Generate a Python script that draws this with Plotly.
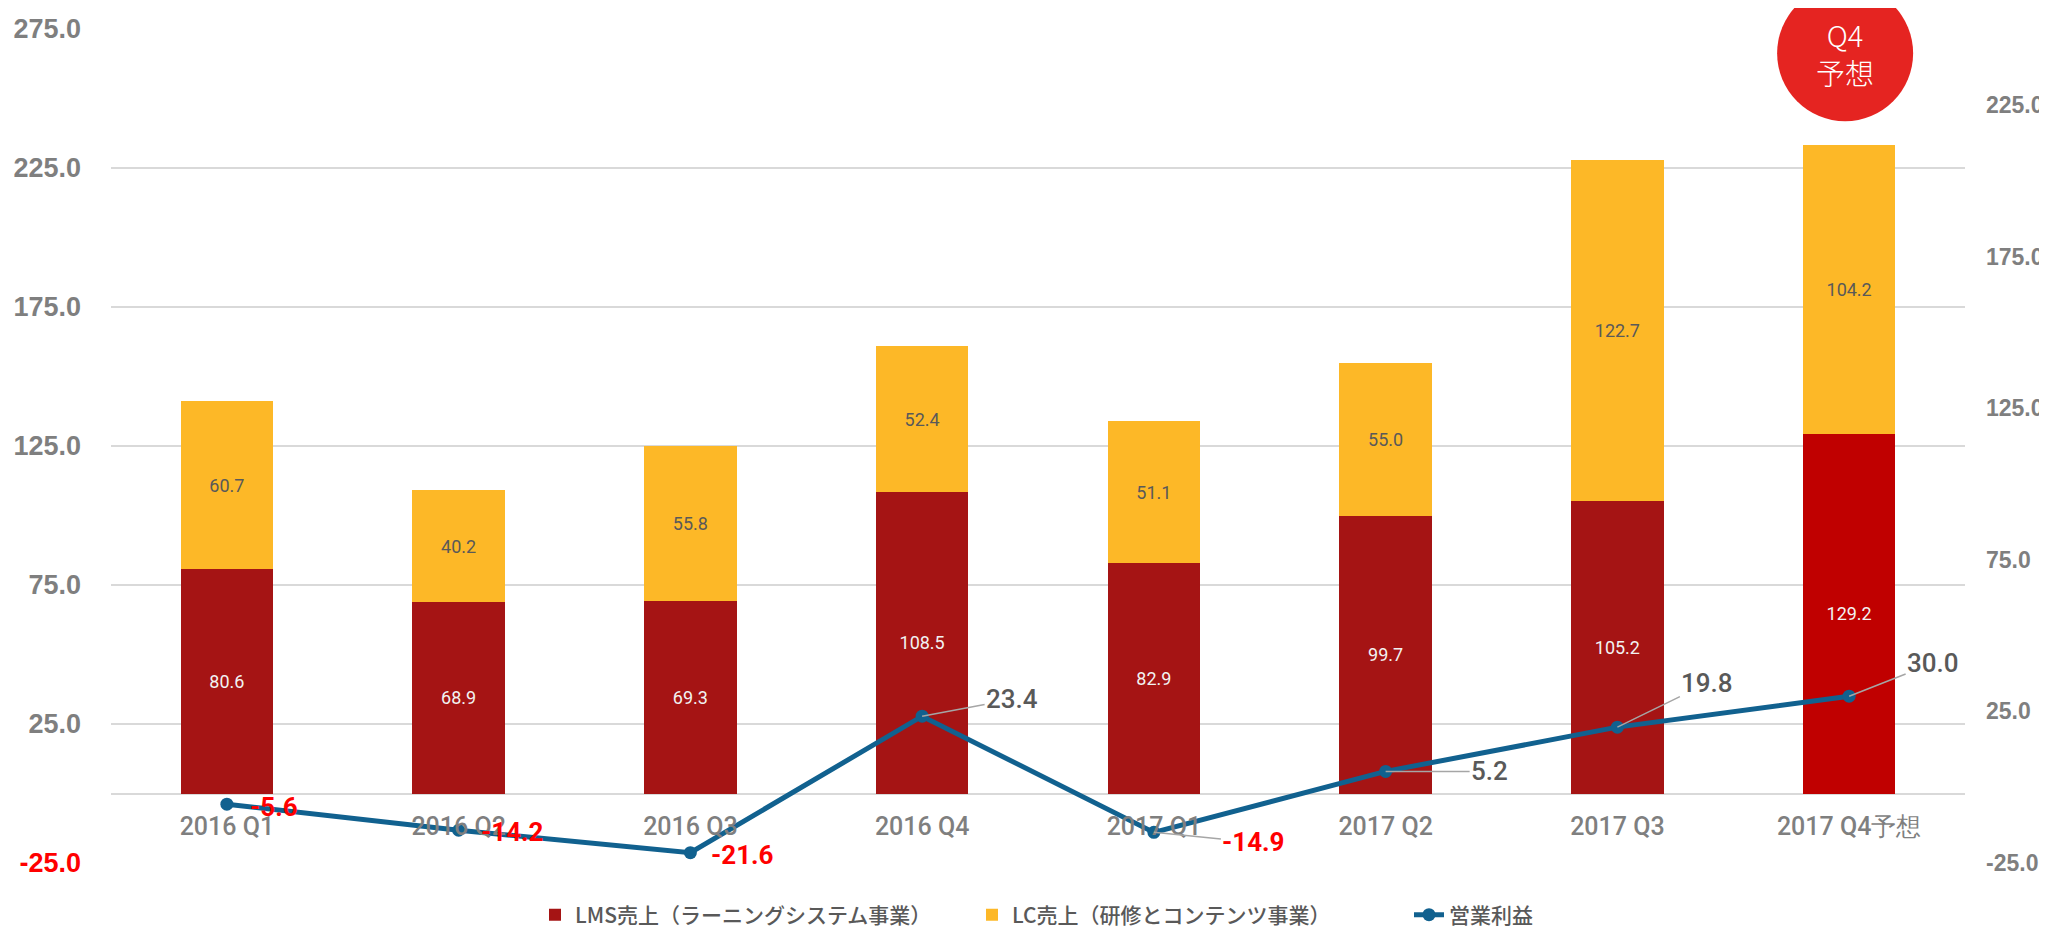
import plotly.graph_objects as go

# ---- data ----
categories = ["2016 Q1", "2016 Q2", "2016 Q3", "2016 Q4",
              "2017 Q1", "2017 Q2", "2017 Q3", "2017 Q4予想"]
lms_sales = [80.6, 68.9, 69.3, 108.5, 82.9, 99.7, 105.2, 129.2]
lc_sales = [60.7, 40.2, 55.8, 52.4, 51.1, 55.0, 122.7, 104.2]
op_profit = [-5.6, -14.2, -21.6, 23.4, -14.9, 5.2, 19.8, 30.0]

left_ticks = [-25, 25, 75, 125, 175, 225, 275]
right_ticks = [-25, 25, 75, 125, 175, 225]

series_names = ["LMS売上（ラーニングシステム事業）", "LC売上（研修とコンテンツ事業）", "営業利益"]

# ---- styles ----
# page body has an 8px default margin, so the figure is sized to fill the rest
OFF = 8
W, H = 2047 - OFF, 928 - OFF
ML, MR, MT, MB = 111 - OFF, 82, 29 - OFF, 65
LMS_COLOR = "#A51414"
LMS_FORECAST = "#C00000"
LC_COLOR = "#FDB827"
LINE_COLOR = "#11618F"
GRID = "#D9D9D9"
AX_GRAY = "#7F7F7F"
LBL_GRAY = "#595959"

# label offsets (pixels) for operating-profit labels: (dx, dy, leader)
label_offsets = [(47, 3, False), (54, 2, False), (52, 2, False), (90, -17, True),
                 (100, 10, True), (104, 0, True), (90, -44, True), (84, -33, True)]

left_range = [-25, 275]
right_range = [-25, 250]

lms_colors = [LMS_COLOR] * (len(categories) - 1) + [LMS_FORECAST]

fig = go.Figure()
fig.add_trace(go.Bar(
    x=categories, y=lms_sales, name=series_names[0],
    marker=dict(color=lms_colors, line=dict(width=0)),
    texttemplate="%{y:.1f}", textposition="inside", insidetextanchor="middle",
    textangle=0, constraintext="none",
    textfont=dict(family="Roboto", size=18, color="#F2F2F2"),
    width=0.4, yaxis="y", legendrank=1,
))
fig.add_trace(go.Bar(
    x=categories, y=lc_sales, name=series_names[1],
    marker=dict(color=LC_COLOR, line=dict(width=0)),
    texttemplate="%{y:.1f}", textposition="inside", insidetextanchor="middle",
    textangle=0, constraintext="none",
    textfont=dict(family="Roboto", size=18, color=LBL_GRAY),
    width=0.4, yaxis="y", legendrank=2,
))
fig.add_trace(go.Scatter(
    x=categories, y=op_profit, name=series_names[2], yaxis="y2",
    mode="lines+markers",
    line=dict(color=LINE_COLOR, width=5),
    marker=dict(color=LINE_COLOR, size=13),
    legendrank=3,
))

annotations = []
for cat, val, (dx, dy, leader) in zip(categories, op_profit, label_offsets):
    neg = val < 0
    font = dict(family="Roboto", size=26,
                color="#FF0000" if neg else LBL_GRAY,
                weight=700 if neg else 500)
    if leader:
        annotations.append(dict(
            x=cat, y=val, xref="x", yref="y2", text=f"{val:.1f}",
            showarrow=True, arrowhead=0, arrowwidth=1.5, arrowcolor="#A6A6A6",
            standoff=0, ax=dx, ay=dy, font=font,
        ))
    else:
        annotations.append(dict(
            x=cat, y=val, xref="x", yref="y2", text=f"{val:.1f}",
            showarrow=False, xshift=dx, yshift=-dy, font=font,
        ))

# forecast badge above the last category
n = len(categories)
badge_x = (n - 1 + 0.5) / n
badge_y = 0.971
annotations.append(dict(
    x=badge_x, y=badge_y, xref="paper", yref="paper", xshift=-4,
    xanchor="center", yanchor="middle", align="center",
    text="Q4<br>予想", showarrow=False,
    font=dict(family="Noto Sans CJK JP", size=29, color="white", weight=300),
))

fig.update_layout(
    width=W, height=H,
    margin=dict(l=ML, r=MR, t=MT, b=MB, autoexpand=False),
    paper_bgcolor="white", plot_bgcolor="white",
    barmode="stack", bargap=0.6,
    showlegend=True,
    legend=dict(orientation="h", xref="container", yref="container",
                x=(535 - OFF) / W, xanchor="left", y=(928 - 915) / H, yanchor="middle",
                font=dict(family="Noto Sans CJK JP", size=21, color=LBL_GRAY, weight=500),
                traceorder="normal", entrywidth=392, entrywidthmode="pixels"),
    xaxis=dict(
        type="category", range=[-0.5, n - 0.5],
        anchor="free", position=(0 - left_range[0]) / (left_range[1] - left_range[0]),
        showline=False, showgrid=False, ticks="", ticklabelstandoff=15,
        tickfont=dict(family="Roboto", size=25, color=AX_GRAY, weight=500),
    ),
    yaxis=dict(
        range=left_range, tickvals=left_ticks,
        ticktext=[("<span style='color:#FF0000'>%.1f</span>" % v) if v < 0 else "%.1f" % v for v in left_ticks],
        showgrid=True, gridcolor=GRID, gridwidth=1.5,
        zeroline=True, zerolinecolor=GRID, zerolinewidth=1.5,
        showline=False, ticks="", ticklabelstandoff=29,
        tickfont=dict(family="Liberation Sans", size=27, color=AX_GRAY, weight=700),
    ),
    yaxis2=dict(
        range=right_range, tickvals=right_ticks,
        ticktext=["%.1f" % v for v in right_ticks],
        overlaying="y", side="right", anchor="x",
        showgrid=False, zeroline=False, showline=False, ticks="", ticklabelstandoff=20,
        tickfont=dict(family="Liberation Sans", size=23, color=AX_GRAY, weight=700),
    ),
    annotations=annotations,
    shapes=[dict(
        type="circle", xref="paper", yref="paper",
        xsizemode="pixel", ysizemode="pixel",
        xanchor=badge_x, yanchor=badge_y,
        x0=-72, x1=64, y0=-68, y1=68,
        fillcolor="#E52421", line=dict(width=0), layer="between",
    )],
)

fig.write_html("out.html")
